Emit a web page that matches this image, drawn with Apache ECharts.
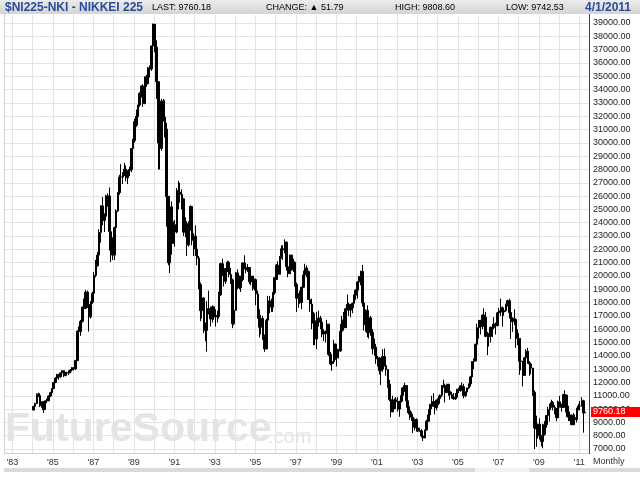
<!DOCTYPE html>
<html>
<head>
<meta charset="utf-8">
<script src="https://cdn.jsdelivr.net/npm/echarts@6/dist/echarts.min.js"></script>
<style>
html,body{margin:0;padding:0;background:#fff;}
#c{width:640px;height:480px;}
</style>
</head>
<body>
<div id="c"></div>
<script>
// Monthly bars, Nikkei 225, Jan 1984 .. Apr 2011
var startYear = 1984;
var firstOpen = 9927;
var closes = [
/*1984*/ 10196,10410,11110,11010,10250,10550,9960,10630,10620,10980,11230,11543,
/*1985*/ 11992,12321,12590,12426,12712,12882,12532,12748,12700,12846,12937,13113,
/*1986*/ 13024,13640,15860,15825,16592,17654,17563,18787,17852,16911,18038,18701,
/*1987*/ 20048,20767,21567,23275,25262,24176,24489,25719,26011,23329,22687,21564,
/*1988*/ 23622,24885,26260,27434,27417,27770,28020,27366,27924,27995,29579,30159,
/*1989*/ 31581,31986,32839,33714,34267,32949,34954,34431,35637,35549,37269,38916,
/*1990*/ 37189,34591,29980,29584,33131,31940,31036,25978,20984,25194,22454,23849,
/*1991*/ 23293,26409,26292,26111,25790,23291,23900,22335,23916,25222,22687,22984,
/*1992*/ 22023,21338,19346,17391,18348,15952,15910,17555,17399,16767,17683,16925,
/*1993*/ 17024,16953,18591,20919,20552,19590,20380,21027,20106,19704,16408,17417,
/*1994*/ 20229,19997,19112,19725,20974,20644,20449,20629,19564,19990,19076,19723,
/*1995*/ 18650,17053,16140,16807,15437,14517,16678,18117,17913,17655,18744,19868,
/*1996*/ 20813,20125,21407,22041,21956,22531,20693,20167,21556,20467,21020,19361,
/*1997*/ 18330,18557,18003,19151,20069,20605,20331,18229,17888,16459,16636,15259,
/*1998*/ 16628,16831,16527,15641,15671,15830,16379,14108,13406,13565,14884,13842,
/*1999*/ 14499,14368,15837,16702,16112,17530,17862,17437,17605,17942,18558,18934,
/*2000*/ 19540,19960,20337,17974,16332,17411,15727,16861,15747,14539,14649,13786,
/*2001*/ 13843,12884,12999,13934,13262,12969,11861,10714,9775,10366,10697,10543,
/*2002*/ 9997,10587,11024,11492,11764,10621,9877,9619,9383,8640,9215,8579,
/*2003*/ 8340,8363,7973,7831,8425,9083,9563,10344,10219,10560,10101,10677,
/*2004*/ 10784,11042,11715,11762,11236,11859,11326,11082,10824,10771,10899,11489,
/*2005*/ 11388,11741,11669,11009,11277,11584,11900,12414,13574,13607,14872,16111,
/*2006*/ 16650,16205,17060,16906,15467,15505,15457,16141,16128,16399,16274,17226,
/*2007*/ 17383,17604,17288,17400,17876,18138,17249,16569,16786,16737,15681,15308,
/*2008*/ 13592,13603,12526,13850,14339,13481,13377,13073,11260,8577,8512,8860,
/*2009*/ 7994,7568,8110,8828,9523,9958,10357,10493,10133,10035,9346,10546,
/*2010*/ 10198,10126,11090,11057,9769,9383,9537,8824,9369,9202,9937,10229,
/*2011*/ 10238,10624,9708,9760.18
];
var highs = [
/*1984*/ 10250,10480,11180,11230,11190,10600,10560,10650,10780,11020,11300,11580,
/*1985*/ 12000,12400,12650,12640,12750,12900,12900,12780,12800,12900,13000,13150,
/*1986*/ 13150,13700,15900,16200,16700,17700,18300,18950,18900,17900,18100,18820,
/*1987*/ 20300,21200,21800,23500,25300,25930,24700,26100,26200,26646,23300,22900,
/*1988*/ 23700,25000,26300,27600,28400,27800,28500,28300,27950,28200,29600,30300,
/*1989*/ 31800,32500,32850,33800,34300,34400,34960,35100,35700,35800,37300,38957,
/*1990*/ 38713,37700,34600,30700,33300,33300,33200,31500,26000,25700,25600,24100,
/*1991*/ 24200,26600,27146,27000,26500,25800,24400,24100,24100,25300,25250,23200,
/*1992*/ 23800,22400,21500,19500,18700,18400,16500,18100,18900,17700,17800,17700,
/*1993*/ 17500,17400,18800,21000,21300,20800,20600,21148,21100,20600,19800,17800,
/*1994*/ 20300,20500,20000,19900,21000,21552,20700,20900,20600,20100,20000,19800,
/*1995*/ 19800,18900,17500,17000,17000,15600,16800,18500,18500,18300,18800,19900,
/*1996*/ 20900,21100,21500,22300,22300,22750,22600,21000,21600,21600,21300,21100,
/*1997*/ 19500,18700,18900,19200,20400,20910,20800,20400,18400,18300,17300,17200,
/*1998*/ 17300,17400,17000,16600,16000,15900,16700,16400,14300,14000,15200,14900,
/*1999*/ 14600,14500,16400,17000,17300,17600,18600,18000,17900,18000,18600,19000,
/*2000*/ 19600,20000,20400,20833,18000,17500,17800,16900,17000,16000,15300,14900,
/*2001*/ 14000,13900,13200,14500,14550,13700,12900,12200,11100,11000,10800,10900,
/*2002*/ 10900,10600,11600,11650,11980,11800,10700,10200,9800,9500,9300,9300,
/*2003*/ 8800,8600,8500,8200,8450,9200,10000,10400,11000,11200,10600,10700,
/*2004*/ 11000,11100,11800,12195,11900,11900,11900,11300,11300,11200,11200,11500,
/*2005*/ 11600,11800,12000,11900,11300,11600,11900,12500,13600,13800,14900,16400,
/*2006*/ 16700,16700,17100,17563,17300,15800,15700,16200,16400,16900,16500,17300,
/*2007*/ 17600,18300,17700,17600,17900,18200,18297,17300,16900,17500,16700,16000,
/*2008*/ 15200,14100,13600,13900,14490,14600,13600,13400,12800,11400,9500,8900,
/*2009*/ 9300,8000,8900,9100,9550,10170,10400,10700,10600,10300,10000,10640,
/*2010*/ 10982,10400,11100,11408,11000,10250,9800,9600,9700,9600,10100,10400,
/*2011*/ 10600,10892,10700,9808.60
];
var lows = [
/*1984*/ 9900,10050,10380,10900,10150,10100,9703,9950,10450,10600,10900,11150,
/*1985*/ 11500,11950,12250,12200,12350,12650,12400,12450,12500,12550,12700,12850,
/*1986*/ 12880,12950,13600,14900,15500,16500,17200,17500,17600,15820,16800,17900,
/*1987*/ 18500,19900,20700,21700,22500,23800,23300,24300,25200,21910,21040,21200,
/*1988*/ 21200,23500,24800,26100,27000,26900,27500,27100,26900,27500,27800,29400,
/*1989*/ 30000,31200,31300,32700,33400,32700,32900,34200,34400,34900,35400,37200,
/*1990*/ 36800,33300,28000,28000,29400,31600,30400,23700,20800,20221,21600,22600,
/*1991*/ 22200,23200,25000,25500,25000,23000,22900,21500,22200,23400,22300,21500,
/*1992*/ 21500,20800,19000,16600,16800,15700,15100,14309,17100,16200,16500,16700,
/*1993*/ 16200,16500,16800,18500,20000,19200,19400,20300,19900,19400,16078,16300,
/*1994*/ 17400,19000,19000,18800,19600,20500,20200,20300,19400,19300,18900,18900,
/*1995*/ 17800,16800,15381,15600,15200,14300,14485,16400,17200,17300,17300,18600,
/*1996*/ 19700,19700,20100,21300,21200,21700,20400,19900,20300,20400,20300,19200,
/*1997*/ 17300,17600,17900,17500,19100,20000,19900,18200,17300,16000,14800,14800,
/*1998*/ 14500,16200,16000,15400,15100,15000,15700,14000,13300,12879,13400,13700,
/*1999*/ 13200,13800,14300,15700,15900,16100,17400,17000,16900,17200,17800,18200,
/*2000*/ 18300,19200,19300,17700,15900,15800,15400,15300,15500,14100,14000,13400,
/*2001*/ 13200,12600,11800,12800,13200,12500,11600,10600,9382,9900,10000,10000,
/*2002*/ 9800,9420,10500,11000,11300,10100,9700,9200,9100,8200,8400,8300,
/*2003*/ 8300,8300,7860,7603,7800,8400,9200,9300,10000,10300,9600,9900,
/*2004*/ 10300,10400,10900,11600,10500,11200,11000,10700,10800,10700,10700,10800,
/*2005*/ 11200,11300,11600,10800,10900,11200,11500,11700,12300,13000,13600,14700,
/*2006*/ 15300,15600,16000,16700,15400,14045,14700,15000,15400,16000,15600,16200,
/*2007*/ 16900,17000,16200,17000,17300,17700,16800,15262,15800,16300,14600,14800,
/*2008*/ 12573,12900,11700,12600,13600,13400,12500,12600,11000,6995,7163,7800,
/*2009*/ 7700,7200,7055,8000,8600,9300,9050,10100,9900,9600,9081,9400,
/*2010*/ 10100,9800,10200,10900,9400,9100,9100,8800,8900,9100,9000,10000,
/*2011*/ 10200,10200,8227,9742.53
];
var yearLabels = ["'83","'85","'87","'89","'91","'93","'95","'97","'99","'01","'03","'05","'07","'09","'11"];
var lastValue = 9760.18;

// build table
var rows = [];
for (var i = 0; i < closes.length; i++) {
  var yr = startYear + Math.floor(i / 12);
  var mo = i % 12;
  var o = i === 0 ? firstOpen : closes[i - 1];
  var c = closes[i];
  var h = Math.max(highs[i], o, c);
  var l = Math.min(lows[i], o, c);
  rows.push([yr + (mo + 0.5) / 12, o, c, l, h]);
}

var BLUE = '#2b4c9c';
var FONT = '"Liberation Sans", Arial, sans-serif';
var NARROW = '"Liberation Sans Narrow", "Arial Narrow", "Liberation Sans", sans-serif';

var baseGraphics = [
    {type: 'rect', shape: {x: 0, y: 0, width: 640, height: 14}, z: 10,
     style: {fill: new echarts.graphic.LinearGradient(0, 0, 0, 1, [
       {offset: 0, color: '#ececec'}, {offset: 1, color: '#d4d4d4'}])}},
    {type: 'text', z: 11, style: {x: 5, y: 7.5, text: '$NI225-NKI - NIKKEI 225', font: 'bold 12px ' + NARROW, fill: BLUE, textVerticalAlign: 'middle'}},
    {type: 'text', z: 11, style: {x: 152, y: 7.5, text: '{a|LAST: }{b|9760.18}', textVerticalAlign: 'middle',
      rich: {a: {fontSize: 9, fontFamily: FONT, color: '#6a6a6a'}, b: {fontSize: 9, fontFamily: FONT, color: BLUE}}}},
    {type: 'text', z: 11, style: {x: 266, y: 7.5, text: '{a|CHANGE: }{b|\u25B2 51.79}', textVerticalAlign: 'middle',
      rich: {a: {fontSize: 9, fontFamily: FONT, color: '#6a6a6a'}, b: {fontSize: 9, fontFamily: FONT, color: BLUE}}}},
    {type: 'text', z: 11, style: {x: 395, y: 7.5, text: '{a|HIGH: }{b|9808.60}', textVerticalAlign: 'middle',
      rich: {a: {fontSize: 9, fontFamily: FONT, color: '#6a6a6a'}, b: {fontSize: 9, fontFamily: FONT, color: BLUE}}}},
    {type: 'text', z: 11, style: {x: 506, y: 7.5, text: '{a|LOW: }{b|9742.53}', textVerticalAlign: 'middle',
      rich: {a: {fontSize: 9, fontFamily: FONT, color: '#6a6a6a'}, b: {fontSize: 9, fontFamily: FONT, color: BLUE}}}},
    {type: 'text', z: 11, style: {x: 631, y: 7.5, text: '4/1/2011', font: 'bold 12px ' + NARROW, fill: BLUE, textAlign: 'right', textVerticalAlign: 'middle'}},
    // plot frame
    {type: 'line', z: 5, shape: {x1: 4.5, y1: 14, x2: 4.5, y2: 453.5}, style: {stroke: '#d0d0d0', lineWidth: 1}},
    {type: 'line', z: 5, shape: {x1: 4, y1: 453.5, x2: 589, y2: 453.5}, style: {stroke: '#d0d0d0', lineWidth: 1}},
    {type: 'line', z: 5, shape: {x1: 589.5, y1: 14, x2: 589.5, y2: 454}, style: {stroke: '#444', lineWidth: 1}},
    // watermark
    {type: 'text', z: 1, silent: true, style: {x: 5, y: 430, text: 'FutureSource', font: 'bold 41px ' + FONT, fill: '#e4e4e4', textVerticalAlign: 'middle'}},
    {type: 'text', z: 1, silent: true, style: {x: 268, y: 437, text: '.com', font: '20px ' + FONT, fill: '#e4e4e4', textVerticalAlign: 'middle'}},
    {type: 'text', z: 11, style: {x: 593, y: 462, text: 'Monthly', font: '9px ' + FONT, fill: '#333', textVerticalAlign: 'middle'}},
    // bottom scroll bar
    {type: 'rect', z: 5, shape: {x: 4, y: 468, width: 636, height: 4}, style: {fill: '#dadada'}},
    {type: 'rect', z: 6, shape: {x: 475, y: 468, width: 54, height: 4}, style: {fill: '#f2f2f2'}}
];

var chart = echarts.init(document.getElementById('c'), null, {renderer: 'canvas'});
chart.setOption({
  animation: false,
  backgroundColor: '#ffffff',
  grid: [
    {left: 12.3, right: 60.7, top: 15, bottom: 27, containLabel: false},
    {left: 4, right: 51, top: 23, bottom: 31, containLabel: false}
  ],
  xAxis: [
    {
      gridIndex: 0, type: 'value', min: 1983, max: 2011, interval: 1,
      axisLine: {show: false}, axisTick: {show: false},
      splitLine: {show: true, lineStyle: {color: '#e4e4e4', width: 1}},
      axisLabel: {
        show: true, margin: 5, fontSize: 9, color: '#333', fontFamily: FONT,
        showMinLabel: true, showMaxLabel: true, hideOverlap: false,
        formatter: function (v) {
          var k = (v - 1983) / 2;
          return (k === Math.floor(k)) ? yearLabels[k] : '';
        }
      }
    },
    {
      gridIndex: 1, type: 'value', min: 1982.5901, max: 2011.479,
      show: false, splitLine: {show: false}
    }
  ],
  yAxis: [
    {gridIndex: 0, type: 'value', min: 0, max: 1, show: false, splitLine: {show: false}},
    {
      gridIndex: 1, type: 'value', position: 'right', min: 7000, max: 39000, interval: 1000,
      axisLine: {show: false}, axisTick: {show: false},
      splitLine: {show: true, lineStyle: {color: '#e4e4e4', width: 1}},
      axisLabel: {
        margin: 4, fontSize: 9, color: '#222', fontFamily: FONT,
        formatter: function (v) { return v.toFixed(2); }
      }
    }
  ],
  graphic: baseGraphics,
  series: [{
    type: 'candlestick',
    xAxisIndex: 1, yAxisIndex: 1,
    clip: false,
    barWidth: 2,
    encode: {x: 0, y: [1, 2, 3, 4]},
    data: rows,
    z: 3,
    itemStyle: {color: '#000', color0: '#000', borderColor: '#000', borderColor0: '#000', borderWidth: 1}
  }]
});

// last-value flag on the price axis, positioned through the axis scale
var yLast = chart.convertToPixel({yAxisIndex: 1}, lastValue);
chart.setOption({
  graphic: baseGraphics.concat([
    {type: 'rect', z: 12, shape: {x: 591, y: Math.round(yLast) - 5, width: 49, height: 10}, style: {fill: '#ff0000'}},
    {type: 'text', z: 13, style: {x: 593, y: Math.round(yLast), text: lastValue.toFixed(2), font: '9px ' + FONT, fill: '#ffffff', textVerticalAlign: 'middle'}}
  ])
}, {replaceMerge: ['graphic']});
</script>
</body>
</html>
